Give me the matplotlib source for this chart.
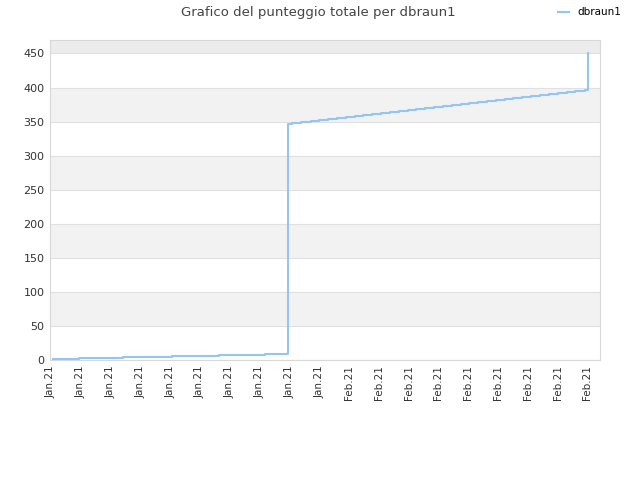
import matplotlib
matplotlib.use("Agg")
import matplotlib.pyplot as plt

# Step points: day number (Jan 1 = 1) and total score
days_early = [4.2, 6.8, 11.3, 16.2, 20.9, 25.5]
score_early = [1.5, 3.3, 5.0, 6.5, 8.0, 9.5]

days_late = [27.84, 28.31, 29.21, 30.15, 30.98, 31.86, 32.76, 33.67, 34.57, 35.45,
             36.28, 37.22, 38.12, 39.03, 39.90, 40.71, 41.61, 42.52, 43.45, 44.33,
             45.23, 46.07, 46.94, 47.85, 48.75, 49.66, 50.54, 51.44, 52.35, 53.21,
             54.12, 54.99, 55.90, 56.77, 57.71, 58.01]
score_late = [346.5, 348.0, 349.5, 350.9, 352.3, 353.8, 355.2, 356.7, 358.1, 359.6,
              361.0, 362.5, 363.9, 365.4, 366.8, 368.3, 369.8, 371.2, 372.6, 374.1,
              375.6, 377.0, 378.5, 379.9, 381.4, 382.8, 384.3, 385.7, 387.2, 388.6,
              390.1, 391.5, 393.0, 394.5, 396.0, 450.0]

tick_days = [4, 7, 10, 13, 16, 19, 22, 25, 28, 31, 34, 37, 40, 43, 46, 49, 52, 55, 58]
tick_labels = ["Jan.21"] * 10 + ["Feb.21"] * 9
y_ticks = [0, 50, 100, 150, 200, 250, 300, 350, 400, 450]

days = days_early + days_late
score = score_early + score_late

fig = plt.figure(figsize=(6.4, 4.8), dpi=100)
ax = fig.add_axes([0.078, 0.25, 0.86, 0.667])

ymax = 470
# alternating background bands
for i, y0 in enumerate(y_ticks):
    y1 = min(y0 + 50, ymax)
    if i % 2 == 1:
        ax.axhspan(y0, y1, color="#f2f2f2", zorder=0, lw=0)
ax.axhspan(450, ymax, color="#ececec", zorder=0, lw=0)
for y in y_ticks:
    ax.axhline(y, color="#e0e0e0", lw=0.8, zorder=1)

ax.step(days, score, where="post", color="#94c5f3", lw=1.5, label="dbraun1", zorder=3)

ax.set_xlim(3.9, 59.3)
ax.set_ylim(0, ymax)
ax.set_xticks(tick_days)
ax.set_xticklabels(tick_labels, rotation=90, fontsize=7.5, color="#333333")
ax.set_yticks(y_ticks)
ax.set_yticklabels([str(v) for v in y_ticks], fontsize=8, color="#333333")
ax.tick_params(length=0, pad=4)
for s in ax.spines.values():
    s.set_color("#d8d8d8")

fig.text(0.497, 0.974, "Grafico del punteggio totale per dbraun1", ha="center", va="center",
         fontsize=9.5, color="#444444")
fig.legend(loc="center right", bbox_to_anchor=(0.985, 0.974), frameon=False, fontsize=7.5,
           handlelength=1.0, handletextpad=0.8)

fig.savefig("out.png", dpi=100)
